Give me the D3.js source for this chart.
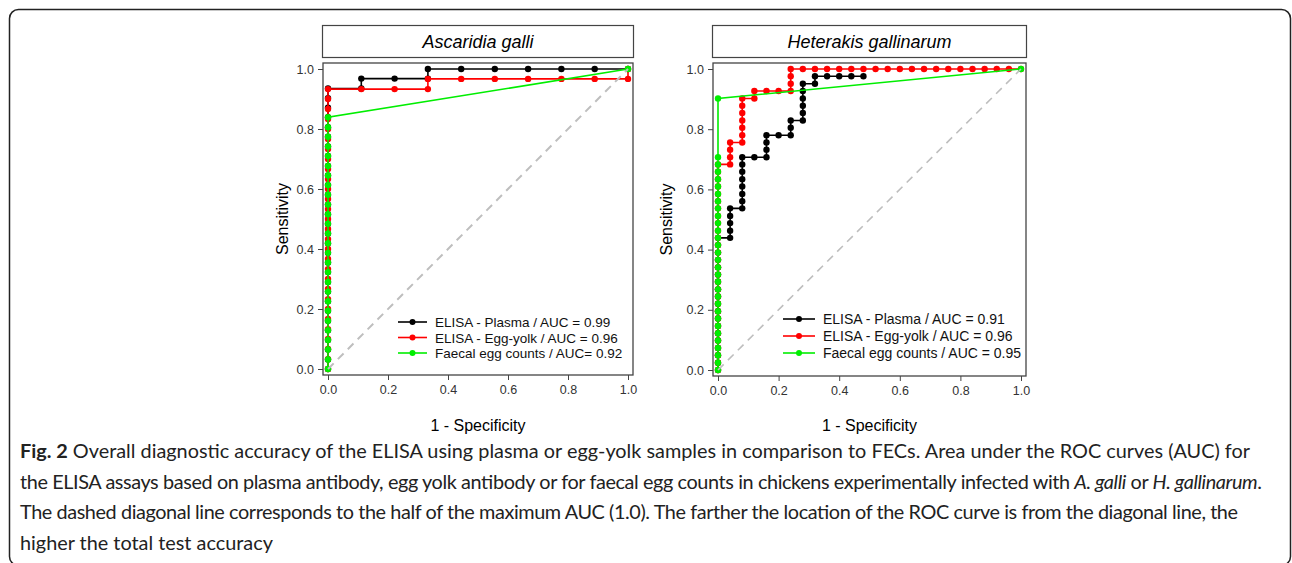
<!DOCTYPE html>
<html>
<head>
<meta charset="utf-8">
<script src="https://cdn.jsdelivr.net/npm/d3@7"></script>
<style>
  body { margin: 0; background: #fff; }
  svg text { font-family: "Liberation Sans", Arial, sans-serif; }
  svg text.caption { font-family: Lato, "Open Sans", sans-serif; fill: #222; }
</style>
</head>
<body>
<div id="fig"></div>
<script>
// ---- data: ROC points as [1 - specificity, sensitivity] ----
var agPlasma = [[0,0],[0,.032],[0,.065],[0,.097],[0,.129],[0,.161],[0,.194],[0,.226],[0,.258],[0,.29],
  [0,.323],[0,.355],[0,.387],[0,.419],[0,.452],[0,.484],[0,.516],[0,.548],[0,.581],[0,.613],[0,.645],
  [0,.677],[0,.71],[0,.742],[0,.774],[0,.806],[0,.839],[0,.871],[0,.903],[0,.935],
  [.111,.935],[.111,.968],[.222,.968],[.333,.968],[.333,1],[.444,1],[.556,1],[.667,1],[.778,1],[.889,1],[1,1]];
var agYolk = [[0,0],[0,.033],[0,.067],[0,.1],[0,.133],[0,.167],[0,.2],[0,.233],[0,.267],[0,.3],
  [0,.333],[0,.367],[0,.4],[0,.433],[0,.467],[0,.5],[0,.533],[0,.567],[0,.6],[0,.633],[0,.667],
  [0,.7],[0,.733],[0,.767],[0,.8],[0,.833],[0,.867],[0,.9],[0,.933],
  [.111,.933],[.222,.933],[.333,.933],[.333,.967],[.444,.967],[.556,.967],[.667,.967],[.778,.967],[.889,.967],[1,.967],[1,1]];
var agFec = [[0,0],[0,.032],[0,.065],[0,.097],[0,.129],[0,.161],[0,.194],[0,.226],[0,.258],[0,.29],
  [0,.323],[0,.355],[0,.387],[0,.419],[0,.452],[0,.484],[0,.516],[0,.548],[0,.581],[0,.613],[0,.645],
  [0,.677],[0,.71],[0,.742],[0,.774],[0,.806],[0,.839],[1,1]];

var hgPlasma = [[0,0],[0,.024],[0,.049],[0,.073],[0,.098],[0,.122],[0,.146],[0,.171],[0,.195],[0,.22],
  [0,.244],[0,.268],[0,.293],[0,.317],[0,.341],[0,.366],[0,.39],[0,.415],[0,.439],
  [.04,.439],[.04,.463],[.04,.488],[.04,.512],[.04,.537],[.08,.537],[.08,.561],[.08,.585],[.08,.61],
  [.08,.634],[.08,.659],[.08,.683],[.08,.707],[.12,.707],[.16,.707],[.16,.732],[.16,.756],[.16,.78],
  [.2,.78],[.24,.78],[.24,.805],[.24,.829],[.28,.829],[.28,.854],[.28,.878],[.28,.902],[.28,.927],
  [.28,.951],[.32,.951],[.32,.976],[.36,.976],[.4,.976],[.44,.976],[.48,.976]];
var hgYolk = [[0,0],[0,.024],[0,.049],[0,.073],[0,.098],[0,.122],[0,.146],[0,.171],[0,.195],[0,.22],
  [0,.244],[0,.268],[0,.293],[0,.317],[0,.341],[0,.366],[0,.39],[0,.415],[0,.439],[0,.463],[0,.488],
  [0,.512],[0,.537],[0,.561],[0,.585],[0,.61],[0,.634],[0,.659],[0,.683],
  [.04,.683],[.04,.707],[.04,.732],[.04,.756],[.08,.756],[.08,.78],[.08,.805],[.08,.829],[.08,.854],
  [.08,.878],[.08,.902],[.12,.902],[.12,.927],[.16,.927],[.2,.927],[.24,.927],[.24,.951],[.24,.976],
  [.24,1],[.28,1],[.32,1],[.36,1],[.4,1],[.44,1],[.48,1],[.52,1],[.56,1],[.6,1],[.64,1],[.68,1],
  [.72,1],[.76,1],[.8,1],[.84,1],[.88,1],[.92,1],[.96,1],[1,1]];
var hgFec = [[0,0],[0,.024],[0,.049],[0,.073],[0,.098],[0,.122],[0,.146],[0,.171],[0,.195],[0,.22],
  [0,.244],[0,.268],[0,.293],[0,.317],[0,.341],[0,.366],[0,.39],[0,.415],[0,.439],[0,.463],[0,.488],
  [0,.512],[0,.537],[0,.561],[0,.585],[0,.61],[0,.634],[0,.659],[0,.683],[0,.707],[0,.902],[1,1]];

var axisTicks = [0, 0.2, 0.4, 0.6, 0.8, 1.0];
var seriesColors = ["#000000", "#ff0000", "#00ee00"];
var agLegend = ["ELISA - Plasma / AUC = 0.99", "ELISA - Egg-yolk / AUC = 0.96", "Faecal egg counts / AUC= 0.92"];
var hgLegend = ["ELISA - Plasma / AUC = 0.91", "ELISA - Egg-yolk / AUC = 0.96", "Faecal egg counts / AUC = 0.95"];
var captionLines = [
  [["Fig. 2", "b"], [" Overall diagnostic accuracy of the ELISA using plasma or egg-yolk samples in comparison to FECs. Area under the ROC curves (AUC) for", ""]],
  [["the ELISA assays based on plasma antibody, egg yolk antibody or for faecal egg counts in chickens experimentally infected with ", ""], ["A. galli", "i"], [" or ", ""], ["H. gallinarum", "i"], [".", ""]],
  [["The dashed diagonal line corresponds to the half of the maximum AUC (1.0). The farther the location of the ROC curve is from the diagonal line, the", ""]],
  [["higher the total test accuracy", ""]]
];
// right end of each caption line (justified-looking block)
var captionEnds = [1250, 1262, 1238, null];

var svg = d3.select("#fig").append("svg")
  .attr("width", 1292)
  .attr("height", 563);

// outer frame
svg.append("rect")
  .attr("x", 9.5).attr("y", 9.5)
  .attr("width", 1281).attr("height", 556)
  .attr("rx", 9)
  .attr("fill", "none")
  .attr("stroke", "#222")
  .attr("stroke-width", 1.5);

function drawPanel(p) {
  var x = d3.scaleLinear().domain([0, 1]).range([p.x0, p.x1]);
  var y = d3.scaleLinear().domain([0, 1]).range([p.y0, p.y1]);
  var g = svg.append("g");
  var pad = 5;

  // title strip
  g.append("rect")
    .attr("x", p.x0 - pad - 0.5).attr("y", 25.5)
    .attr("width", p.x1 - p.x0 + 2 * pad + 1).attr("height", 32)
    .attr("fill", "#fff").attr("stroke", "#444").attr("stroke-width", 1.2);
  g.append("text")
    .attr("x", (p.x0 + p.x1) / 2).attr("y", 47.5)
    .attr("text-anchor", "middle")
    .style("font-size", "18px").style("font-style", "italic")
    .text(p.title);

  // plot box
  g.append("rect")
    .attr("x", p.x0 - pad).attr("y", p.y1 - 6)
    .attr("width", p.x1 - p.x0 + 2 * pad).attr("height", p.y0 - p.y1 + 12)
    .attr("fill", "none").attr("stroke", "#444").attr("stroke-width", 1.3);

  // axes
  var xAxis = g.append("g")
    .attr("transform", "translate(0," + (p.y0 + 6) + ")")
    .call(d3.axisBottom(x).tickValues(axisTicks).tickSize(5).tickPadding(5).tickFormat(d3.format(".1f")));
  var yAxis = g.append("g")
    .attr("transform", "translate(" + (p.x0 - pad) + ",0)")
    .call(d3.axisLeft(y).tickValues(axisTicks).tickSize(5).tickPadding(4).tickFormat(d3.format(".1f")));
  [xAxis, yAxis].forEach(function(a) {
    a.select(".domain").remove();
    a.selectAll("line").attr("stroke", "#444");
    a.selectAll("text").style("font-size", "12.5px").attr("fill", "#333")
      .style("font-family", "'Liberation Sans', Arial, sans-serif");
  });

  g.append("text")
    .attr("transform", "translate(" + p.ylabX + "," + ((p.y0 + p.y1) / 2) + ") rotate(-90)")
    .attr("text-anchor", "middle")
    .style("font-size", "16px")
    .text("Sensitivity");
  g.append("text")
    .attr("x", (p.x0 + p.x1) / 2).attr("y", 431)
    .attr("text-anchor", "middle")
    .style("font-size", "16px")
    .text("1 - Specificity");

  // curves
  var line = d3.line().x(function(d) { return x(d[0]); }).y(function(d) { return y(d[1]); });
  p.series.forEach(function(s, i) {
    g.append("path").datum(s)
      .attr("d", line)
      .attr("fill", "none").attr("stroke", seriesColors[i]).attr("stroke-width", 1.6);
    g.selectAll(null).data(s).enter().append("circle")
      .attr("cx", function(d) { return x(d[0]); })
      .attr("cy", function(d) { return y(d[1]); })
      .attr("r", 3.2)
      .attr("fill", seriesColors[i]);
  });

  // chance diagonal
  g.append("line")
    .attr("x1", x(0)).attr("y1", y(0)).attr("x2", x(1)).attr("y2", y(1))
    .attr("stroke", "#bebebe").attr("stroke-width", p.diagW)
    .attr("stroke-dasharray", "8,6");

  // legend
  p.legend.forEach(function(t, i) {
    var ly = p.legY + i * p.legStep;
    g.append("line")
      .attr("x1", p.legX).attr("x2", p.legX + p.legLen)
      .attr("y1", ly).attr("y2", ly)
      .attr("stroke", seriesColors[i]).attr("stroke-width", 1.6);
    g.append("circle")
      .attr("cx", p.legX + p.legLen / 2).attr("cy", ly).attr("r", 3)
      .attr("fill", seriesColors[i]);
    g.append("text")
      .attr("x", p.legX + p.legLen + 8).attr("y", ly + 5)
      .style("font-size", p.legFont)
      .attr("fill", "#111")
      .text(t);
  });
}

drawPanel({
  title: "Ascaridia galli", x0: 328, x1: 628, y0: 369, y1: 69, ylabX: 288, diagW: 2,
  series: [agPlasma, agYolk, agFec], legend: agLegend,
  legX: 398, legLen: 29, legY: 322, legStep: 15.5, legFont: "13.5px"
});
drawPanel({
  title: "Heterakis gallinarum", x0: 718, x1: 1021, y0: 370, y1: 69, ylabX: 672, diagW: 1.6,
  series: [hgPlasma, hgYolk, hgFec], legend: hgLegend,
  legX: 783, legLen: 32, legY: 319, legStep: 17, legFont: "14px"
});

// caption
var capG = svg.append("g");
var capTexts = captionLines.map(function(parts, i) {
  var t = capG.append("text").attr("class", "caption")
    .attr("x", 20).attr("y", 458 + i * 30.5)
    .style("font-size", "16px");
  parts.forEach(function(pt) {
    var ts = t.append("tspan").text(pt[0]);
    if (pt[1] === "b") ts.style("font-weight", "bold");
    if (pt[1] === "i") ts.style("font-style", "italic");
  });
  return t;
});
var w0 = capTexts[0].node().getComputedTextLength();
var capSize = 16 * (captionEnds[0] - 20) / w0;
capTexts.forEach(function(t, i) {
  t.style("font-size", capSize + "px");
  if (captionEnds[i]) {
    t.attr("textLength", captionEnds[i] - 20).attr("lengthAdjust", "spacing");
  }
});
</script>
</body>
</html>
